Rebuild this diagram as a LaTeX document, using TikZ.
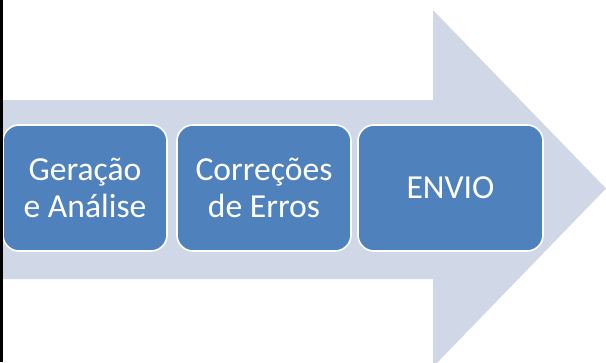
\documentclass[tikz,border=0pt]{standalone}
\usepackage{fontspec}
\setmainfont{Carlito}
\definecolor{stepblue}{HTML}{4F81BD}
\definecolor{arrowgray}{HTML}{D0D8E8}
\tikzset{
  stage/.style={draw=white,line width=1.2pt,fill=stepblue,text=white,rounded corners=12pt,
    minimum height=94.5pt,align=center,inner sep=0pt,
    font=\fontsize{25.2}{27.75}\selectfont}
}
\begin{document}
\begin{tikzpicture}[x=0.75pt,y=-0.75pt]
\useasboundingbox (0,0) rectangle (606,362);

% big arrow behind the stages
\fill[arrowgray] (0,100) -- (433,100) -- (433,10) -- (606,188.5) -- (433,367) -- (433,279) -- (0,279) -- cycle;

\node[stage,minimum width=123pt](geracao) at (85,188) {Geração\\e Análise};
\node[stage,minimum width=130.5pt](correcoes) at (264,188) {Correções\\de Erros};
\node[stage,minimum width=138.75pt](envio) at (450.5,188) {ENVIO};

% left border line
\fill[black] (0,0) rectangle (3.2,362);

\end{tikzpicture}
\end{document}
